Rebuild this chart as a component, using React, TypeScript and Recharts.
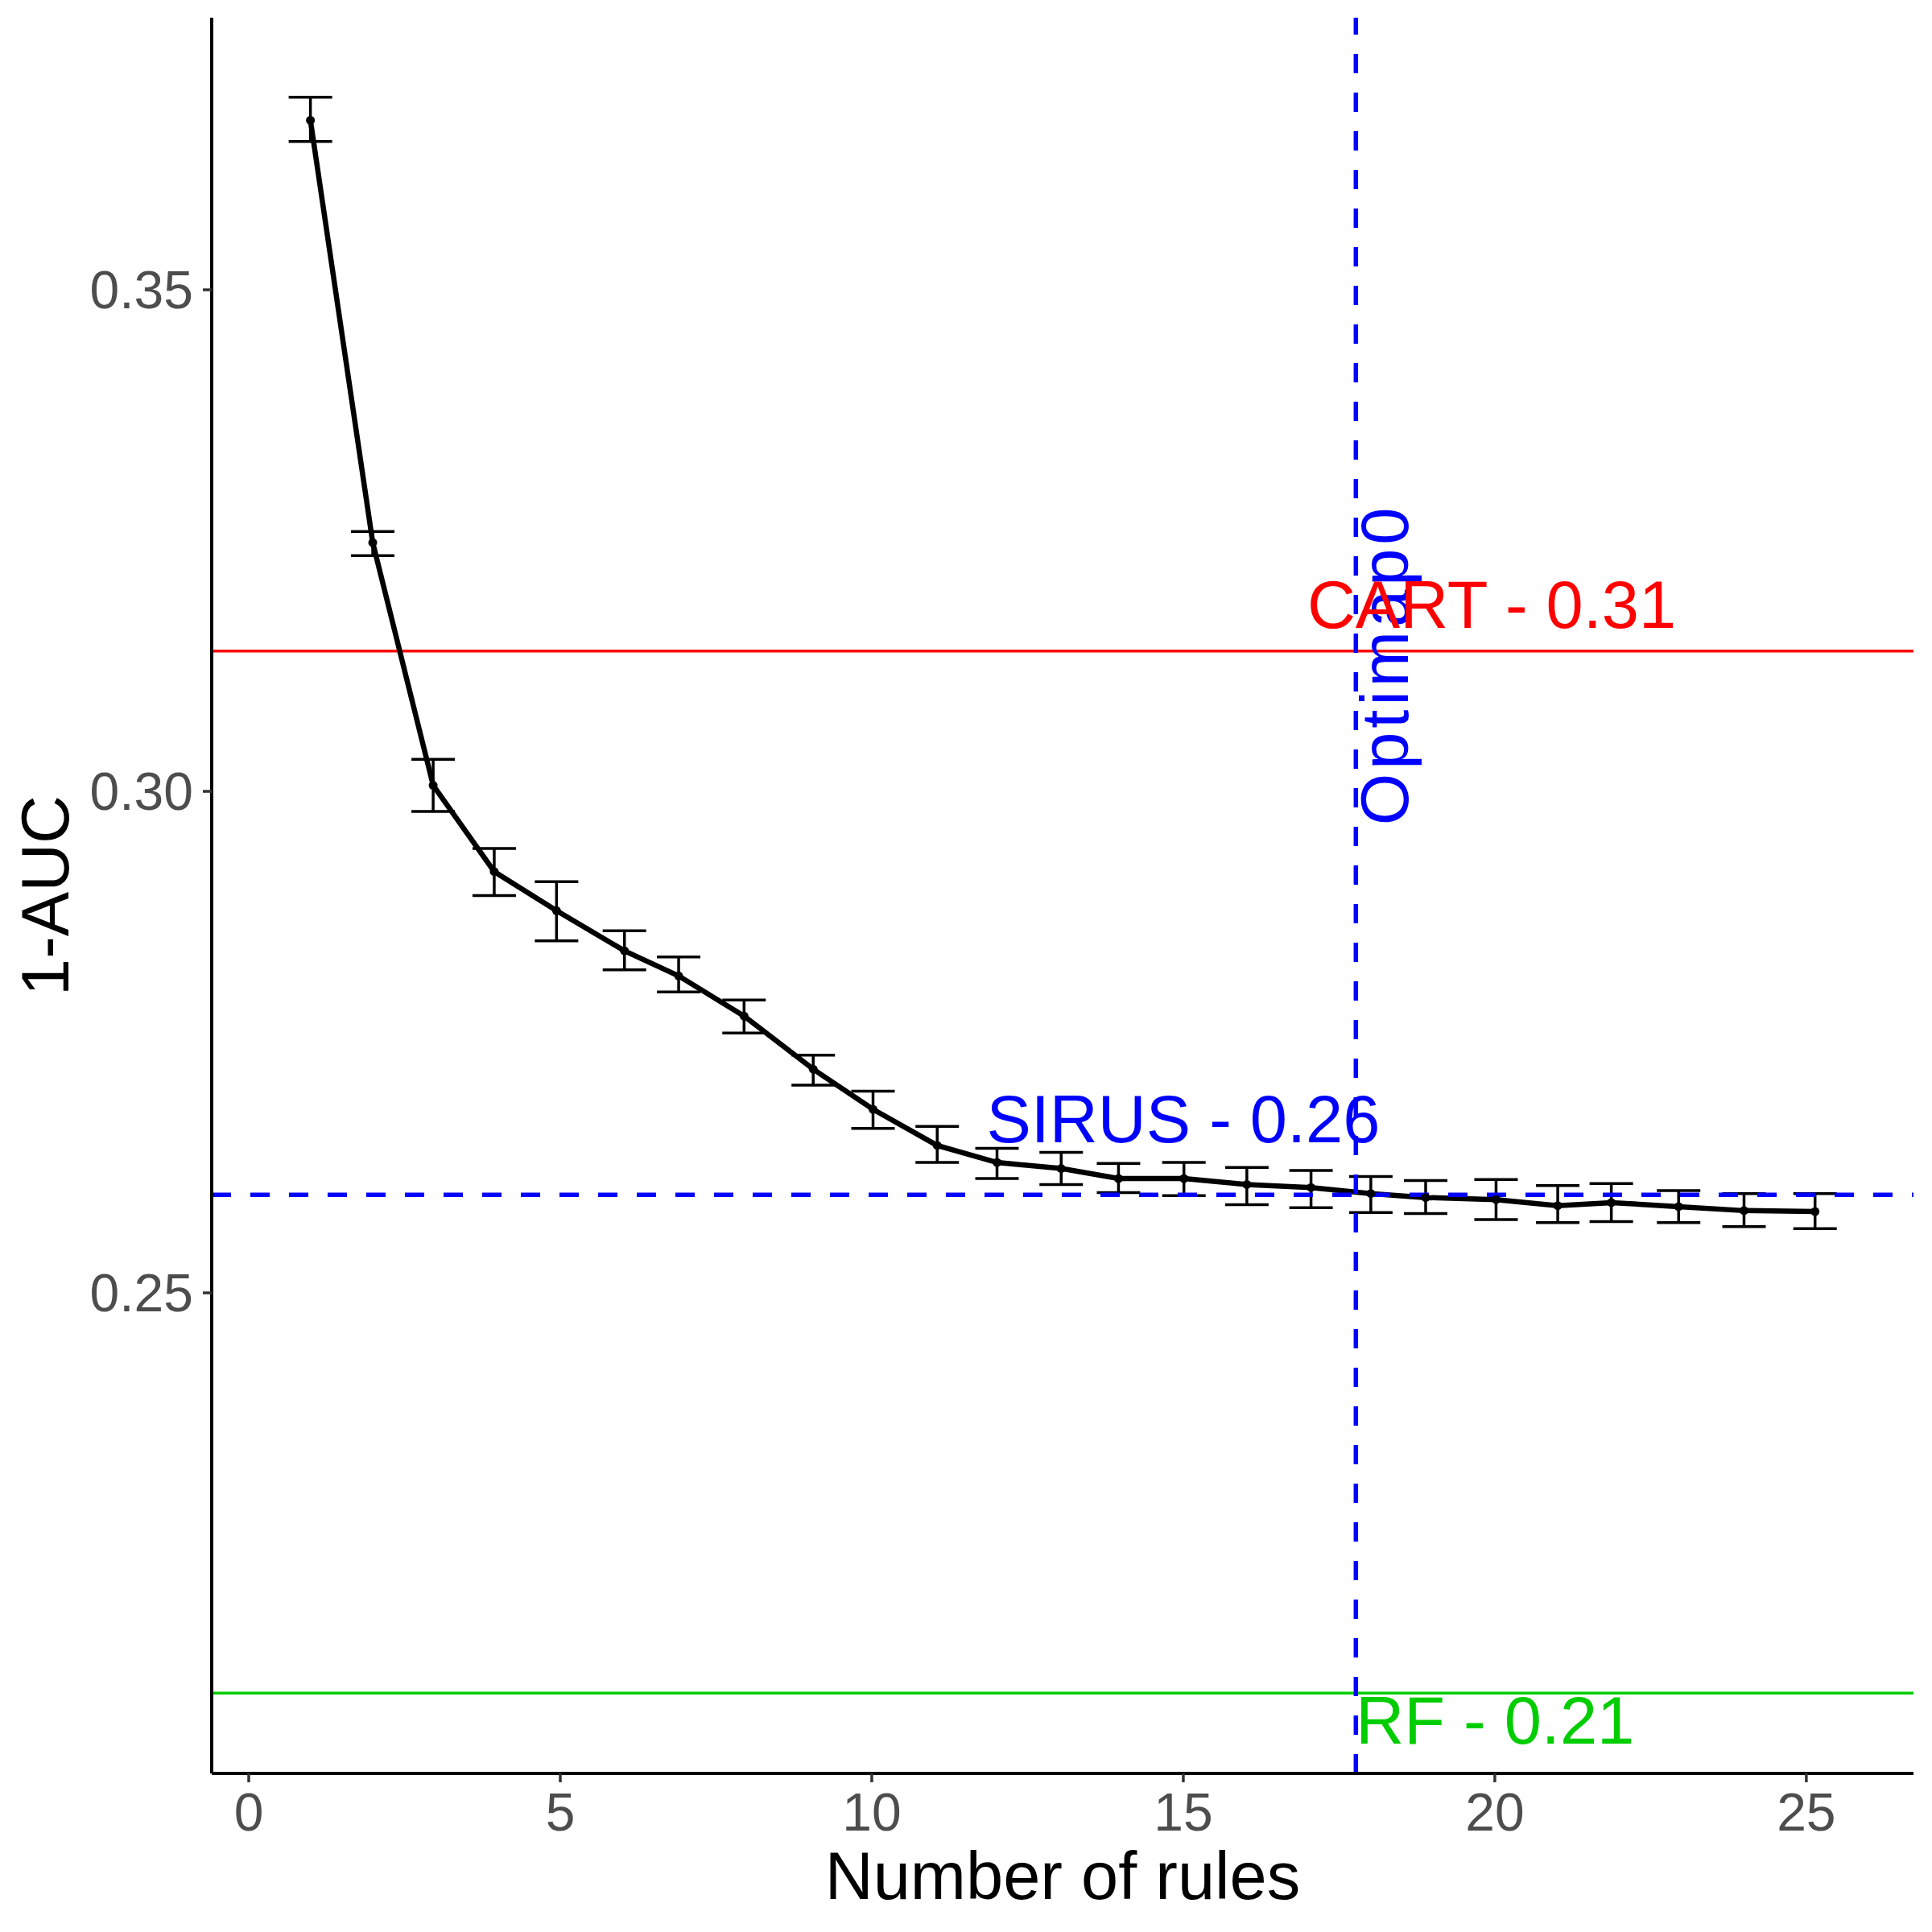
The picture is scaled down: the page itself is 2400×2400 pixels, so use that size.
import React from 'react';
import {
  ComposedChart,
  Line,
  ErrorBar,
  XAxis,
  YAxis,
  ReferenceLine,
  ReferenceDot,
} from 'recharts';

// ---- Data ----
const numRules = [0.99, 1.99, 2.96, 3.94, 4.94, 6.03, 6.9, 7.95, 9.06, 10.02, 11.05, 12.01, 13.04, 13.96, 15.01, 16.02, 17.05, 18.01, 18.89, 20.02, 21.01, 21.87, 22.95, 24.0, 25.14];
const meanError = [0.3669, 0.3248, 0.3006, 0.292, 0.2881, 0.2841, 0.2816, 0.2776, 0.2723, 0.2683, 0.2647, 0.263, 0.2624, 0.2614, 0.2614, 0.2608, 0.2605, 0.2599, 0.2595, 0.2593, 0.2587, 0.259, 0.2586, 0.2582, 0.2581];
const lowerError = [0.3648, 0.3235, 0.298, 0.2896, 0.2851, 0.2822, 0.28, 0.2759, 0.2707, 0.2664, 0.263, 0.2614, 0.2608, 0.26, 0.2597, 0.2588, 0.2585, 0.258, 0.2579, 0.2573, 0.257, 0.2571, 0.257, 0.2566, 0.2564];
const upperError = [0.3692, 0.3259, 0.3032, 0.2943, 0.291, 0.2861, 0.2835, 0.2792, 0.2737, 0.2701, 0.2666, 0.2644, 0.264, 0.2629, 0.263, 0.2625, 0.2622, 0.2616, 0.2612, 0.2613, 0.2607, 0.2609, 0.2602, 0.2599, 0.2599];

const xTicks = [0, 5, 10, 15, 20, 25];
const yTicks = [0.25, 0.3, 0.35];
const xDomain = [-0.5945, 26.72];
const yDomain = [0.20209, 0.37713];

const cartValue = 0.31399;
const rfValue = 0.21009;
const sirusValue = 0.25977;
const optimalRules = 17.77;

// annotation anchors (data coordinates)
const cartLabel = { x: 19.95, y: 0.3163, text: 'CART - 0.31' };
const sirusLabel = { x: 15.0, y: 0.265, text: 'SIRUS - 0.26' };
const rfLabel = { x: optimalRules, y: 0.20508, text: 'RF - 0.21' };
const optLabel = { x: optimalRules, y: 0.31265, text: 'Optimap0' };

const data = numRules.map((x, i) => ({
  x,
  y: meanError[i],
  err: [meanError[i] - lowerError[i], upperError[i] - meanError[i]],
}));

const FONT = '"Liberation Sans", Arial, Helvetica, sans-serif';

const AnnText = (props: any) => {
  const { viewBox, text, color, anchor = 'middle', rotate = false, shift = 0, spacing = 0 } = props;
  const vb = viewBox || { x: 0, y: 0, width: 0, height: 0 };
  const x = vb.x + (vb.width || 0) / 2;
  const y = vb.y + (vb.height || 0) / 2;
  if (rotate) {
    return (
      <text
        x={x}
        y={y + shift}
        transform={`rotate(-90 ${x} ${y})`}
        textAnchor="middle"
        fill={color}
        fontSize={83}
        fontFamily={FONT}
        letterSpacing={spacing}
      >
        {text}
      </text>
    );
  }
  return (
    <text x={x} y={y} textAnchor={anchor} fill={color} fontSize={83} fontFamily={FONT}>
      {text}
    </text>
  );
};

const XTitle = (props: any) => {
  const vb = props.viewBox || { x: 0, y: 0, width: 0, height: 0 };
  return (
    <text x={vb.x + vb.width / 2} y={vb.y + 156} textAnchor="middle" fill="#000" fontSize={83} fontFamily={FONT}>
      Number of rules
    </text>
  );
};

const YTitle = (props: any) => {
  const vb = props.viewBox || { x: 0, y: 0, width: 0, height: 0 };
  const cx = 85;
  const cy = vb.y + vb.height / 2;
  return (
    <text x={cx} y={cy} transform={`rotate(-90 ${cx} ${cy})`} textAnchor="middle" fill="#000" fontSize={83} fontFamily={FONT}>
      1-AUC
    </text>
  );
};

export default function App() {
  return (
    <div style={{ position: 'absolute', left: 0, top: 0, width: 2400, height: 2400, background: '#fff' }}>
      <ComposedChart
        width={2400}
        height={2400}
        data={data}
        margin={{ top: 22, right: 23, bottom: 0, left: 0 }}
      >
        <XAxis
          type="number"
          dataKey="x"
          domain={xDomain}
          allowDataOverflow
          ticks={xTicks}
          interval={0}
          height={197}
          tickSize={11}
          tickMargin={13}
          axisLine={{ stroke: '#000', strokeWidth: 4 }}
          tickLine={{ stroke: '#333', strokeWidth: 3.5 }}
          tick={{ fontSize: 66, fill: '#4D4D4D', fontFamily: FONT }}
          label={<XTitle />}
        />
        <YAxis
          type="number"
          domain={yDomain}
          allowDataOverflow
          ticks={yTicks}
          interval={0}
          width={263}
          tickSize={11}
          tickMargin={12}
          tickFormatter={(v: number) => v.toFixed(2)}
          axisLine={{ stroke: '#000', strokeWidth: 4 }}
          tickLine={{ stroke: '#333', strokeWidth: 3.5 }}
          tick={{ fontSize: 66, fill: '#4D4D4D', fontFamily: FONT }}
          label={<YTitle />}
        />
        <ReferenceLine y={cartValue} stroke="#FF0000" strokeWidth={3.5} />
        <ReferenceLine y={rfValue} stroke="#00CD00" strokeWidth={3.5} />
        <Line
          type="linear"
          dataKey="y"
          stroke="#000"
          strokeWidth={6.5}
          dot={{ r: 5.5, fill: '#000', stroke: 'none' }}
          isAnimationActive={false}
        >
          <ErrorBar dataKey="err" direction="y" width={27} stroke="#000" strokeWidth={3.5} isAnimationActive={false} />
        </Line>
        <ReferenceLine y={sirusValue} stroke="#0000FF" strokeWidth={5.5} strokeDasharray="24 24" />
        <ReferenceLine x={optimalRules} stroke="#0000FF" strokeWidth={5.5} strokeDasharray="24 24" />
        <ReferenceDot
          x={optLabel.x}
          y={optLabel.y}
          r={0}
          fill="none"
          stroke="none"
          label={<AnnText text={optLabel.text} color="#0000FF" rotate shift={65} spacing={5} />}
        />
        <ReferenceDot
          x={cartLabel.x}
          y={cartLabel.y}
          r={0}
          fill="none"
          stroke="none"
          label={<AnnText text={cartLabel.text} color="#FF0000" />}
        />
        <ReferenceDot
          x={sirusLabel.x}
          y={sirusLabel.y}
          r={0}
          fill="none"
          stroke="none"
          label={<AnnText text={sirusLabel.text} color="#0000FF" />}
        />
        <ReferenceDot
          x={rfLabel.x}
          y={rfLabel.y}
          r={0}
          fill="none"
          stroke="none"
          label={<AnnText text={rfLabel.text} color="#00CD00" anchor="start" />}
        />
      </ComposedChart>
    </div>
  );
}
